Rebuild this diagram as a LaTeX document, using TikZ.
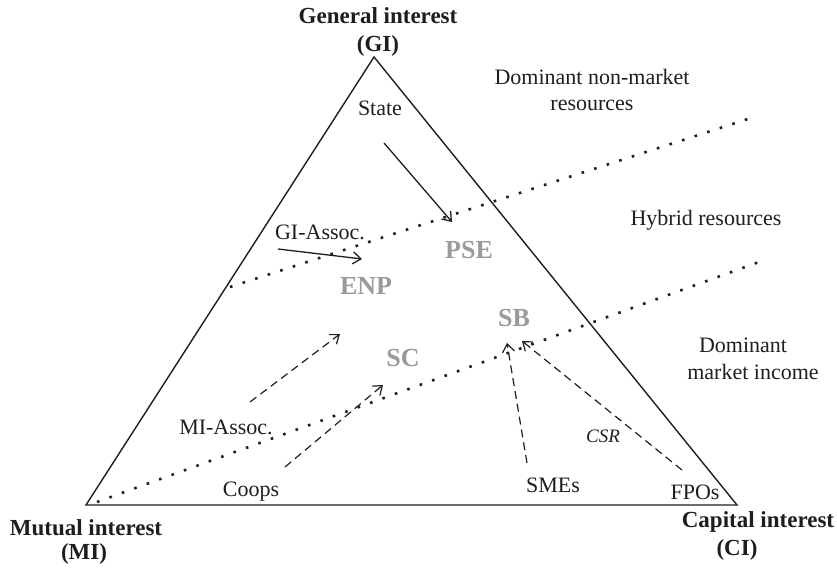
\documentclass[tikz,border=0pt]{standalone}
\usepackage{fontspec}
\setmainfont{Liberation Serif}
\usetikzlibrary{arrows.meta}
\definecolor{ink}{HTML}{1E1E1E}
\definecolor{orgcol}{HTML}{9A9A9A}
\begin{document}
\begin{tikzpicture}[x=1pt,y=-1pt,
  lbl/.style={font=\fontsize{22}{24}\selectfont, text=ink, inner sep=0pt},
  corner/.style={font=\bfseries\fontsize{23}{26}\selectfont, text=ink, inner sep=0pt},
  org/.style={font=\bfseries\fontsize{26}{28}\selectfont, text=orgcol, inner sep=0pt},
  csrlbl/.style={font=\itshape\fontsize{19}{21}\selectfont, text=ink, inner sep=0pt},
  edge/.style={draw=ink, line width=1.4pt},
  dotline/.style={draw=ink, line width=2.6pt, dash pattern=on 2.6pt off 10.6pt},
  solidarrow/.style={draw=ink, line width=1.3pt, -{Straight Barb[length=8pt,width=12pt,line width=1.3pt]}},
  dasharrow/.style={draw=ink, line width=1.2pt, dash pattern=on 8pt off 5pt, -{Straight Barb[length=8pt,width=12pt,line width=1.2pt]}}
]
\useasboundingbox (0,0) rectangle (837,569);

% triangle corners
\coordinate (GI) at (374,57);
\coordinate (MI) at (86,505);
\coordinate (CI) at (737,505);
\draw[edge, line join=miter] (GI) -- (CI) -- (MI) -- cycle;

% dotted boundaries
\coordinate (u1) at (230,287);
\coordinate (u2) at (757,116);
\coordinate (l1) at (97,502);
\coordinate (l2) at (759,262);
\draw[dotline] (u1) -- (u2);
\draw[dotline] (l1) -- (l2);

% corner labels
\node[corner] (gi1) at (378,16) {General interest};
\node[corner] (gi2) at (378,46) {(GI)};
\node[corner] (mi1) at (86,528) {Mutual interest};
\node[corner] (mi2) at (84,554) {(MI)};
\node[corner] (ci1) at (758,522) {Capital interest};
\node[corner] (ci2) at (737,550) {(CI)};

% zone labels
\node[lbl] (z1a) at (592,77) {Dominant non-market};
\node[lbl] (z1b) at (592,105) {resources};
\node[lbl] (z2) at (706,220) {Hybrid resources};
\node[lbl] (z3a) at (743,345) {Dominant};
\node[lbl] (z3b) at (753,372) {market income};

% actors
\node[lbl] (state) at (380,108) {State};
\node[lbl] (giassoc) at (320,232) {GI-Assoc.};
\node[lbl] (miassoc) at (226,427) {MI-Assoc.};
\node[lbl] (coops) at (251,492) {Coops};
\node[lbl] (smes) at (553,485) {SMEs};
\node[lbl] (fpos) at (695,492) {FPOs};

% organisation types
\node[org] (pse) at (469,250) {PSE};
\node[org] (enp) at (366,286) {ENP};
\node[org] (sb) at (514,318) {SB};
\node[org] (sc) at (403,358) {SC};

% arrow ends
\coordinate (s0) at (384,143);
\coordinate (s1) at (452,222);
\coordinate (g0) at (278,249);
\coordinate (g1) at (362,259);
\coordinate (m0) at (250,402);
\coordinate (m1) at (340,334);
\coordinate (c0) at (285,467);
\coordinate (c1) at (383,385);
\coordinate (e0) at (527,463);
\coordinate (e1) at (507,343);
\coordinate (f0) at (682,470);
\coordinate (f1) at (522,341);

\draw[solidarrow] (s0) -- (s1);
\draw[solidarrow] (g0) -- (g1);
\draw[dasharrow] (m0) -- (m1);
\draw[dasharrow] (c0) -- (c1);
\draw[dasharrow] (e0) -- (e1);
\draw[dasharrow] (f0) -- (f1);
\node[csrlbl] (csr) at (603,436) {CSR};
\end{tikzpicture}
\end{document}
